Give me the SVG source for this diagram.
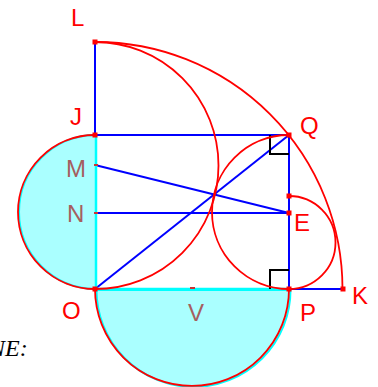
<svg xmlns="http://www.w3.org/2000/svg" width="378" height="387" viewBox="0 0 378 387">
<style>
.fill{fill:#aaffff;stroke:#00ffff;stroke-width:2}
.cy{stroke:#00ffff;stroke-width:2.5;fill:none}
.bl{stroke:#0000ff;stroke-width:2;fill:none}
.rd{stroke:#ff0000;stroke-width:1.8;fill:none}
.rt{stroke:#000000;stroke-width:2;fill:none}
.pt{fill:#ff0000}
.tk{stroke:#cc3333;stroke-width:2}
.lbl{font-family:"Liberation Sans",Arial,sans-serif;font-size:24px;fill:#ff0000}
.lb2{font-family:"Liberation Sans",Arial,sans-serif;font-size:24px;fill:#a55f5f}
.math{font-family:"Liberation Serif","Times New Roman",serif;font-style:italic;font-size:24px;fill:#000000}
</style>
<g id="shading">
<path class="fill" d="M 96 135 A 77 77 0 0 0 96 289 Z"/>
<path class="fill" d="M 96.5 290 A 97 97 0 0 0 290.5 290 Z"/>
</g>
<g id="connectors">
<path class="bl" d="M 95 42 V 135"/>
<path class="bl" d="M 95 135 H 289"/>
<path class="bl" d="M 289 135 V 289"/>
<path class="bl" d="M 95 165 L 289 213"/>
<path class="bl" d="M 95 213 H 289"/>
<path class="bl" d="M 95 289 L 289 135"/>
<path class="bl" d="M 289 289 H 343"/>
<path class="cy" d="M 96 136 V 289 H 289"/>
<path class="rt" d="M 270 135 V 154 H 289"/>
<path class="rt" d="M 270 289 V 270 H 289"/>
<path class="rd" d="M 95 135 A 77 77 0 0 0 95 289"/>
<path class="rd" d="M 95 289 A 97 97 0 0 0 289 289"/>
<path class="rd" d="M 95 42 A 247 247 0 0 1 342.5 289"/>
<path class="rd" d="M 95 42 A 123.5 123.5 0 0 1 95 289"/>
<path class="rd" d="M 289 135 A 77 77 0 0 0 289 289 A 46.5 46.5 0 0 0 289 196"/>
</g>
<g id="L"><rect class="pt" x="92.5" y="39.5" width="5" height="5"/><text class="lbl" x="71" y="26">L</text></g>
<g id="J"><rect class="pt" x="92.5" y="132.5" width="5" height="5"/><text class="lbl" x="70" y="125">J</text></g>
<g id="M"><path class="tk" d="M 94 165 H 98"/><text class="lb2" x="66" y="177">M</text></g>
<g id="N"><path class="tk" d="M 94 213 H 98"/><text class="lb2" x="67" y="222">N</text></g>
<g id="O"><rect class="pt" x="92.5" y="286.5" width="5" height="5"/><text class="lbl" x="62" y="319">O</text></g>
<g id="V"><path class="tk" d="M 190 288 H 195"/><text class="lb2" x="188" y="321">V</text></g>
<g id="P"><rect class="pt" x="286.5" y="286.5" width="5" height="5"/><text class="lbl" x="300" y="321">P</text></g>
<g id="K"><rect class="pt" x="340.5" y="286.5" width="5" height="5"/><text class="lbl" x="352" y="304">K</text></g>
<g id="Q"><rect class="pt" x="286.5" y="132.5" width="5" height="5"/><text class="lbl" x="300" y="134">Q</text></g>
<g id="E"><rect class="pt" x="286.5" y="210.5" width="5" height="5"/><text class="lbl" x="294" y="231">E</text></g>
<g id="R"><rect class="pt" x="286.5" y="193.5" width="5" height="5"/></g>
<text class="math" x="-11" y="356">NE:</text>
</svg>
